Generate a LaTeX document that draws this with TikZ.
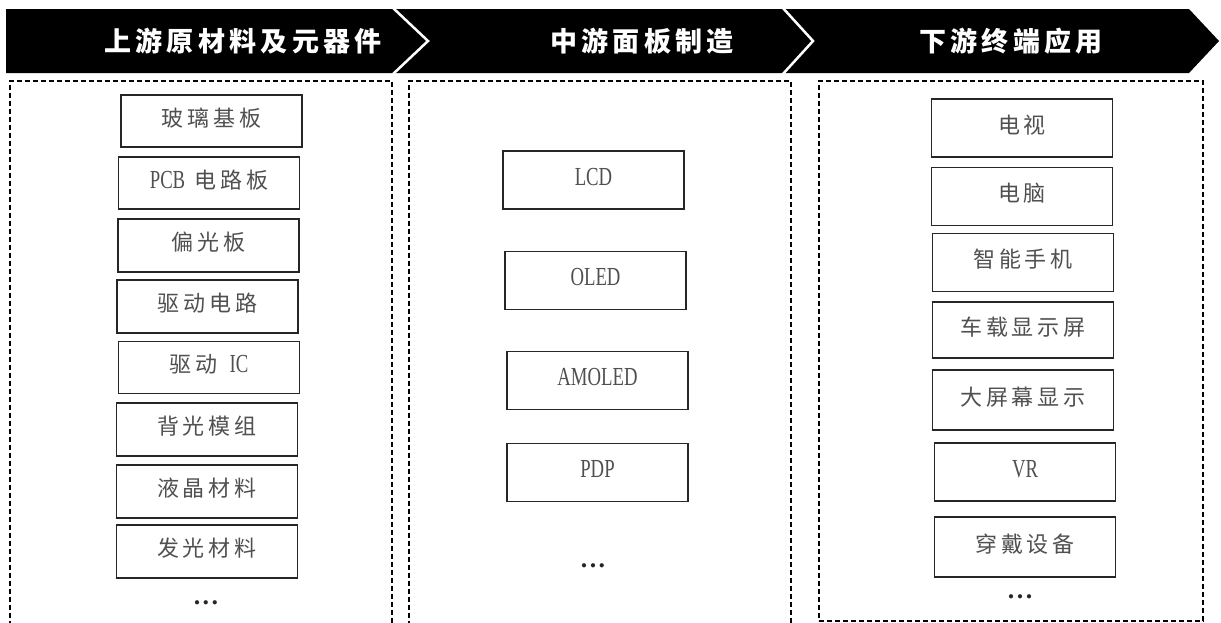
\documentclass[tikz,border=0pt]{standalone}
\usepackage{fontspec}
\setmainfont{Liberation Serif}
\newfontfamily\cjk{Noto Sans CJK SC}[LetterSpace=18]
\newfontfamily\hdrfont{Noto Sans CJK SC}[LetterSpace=16]
\newfontfamily\lat{Liberation Serif}[FakeStretch=0.72]
\definecolor{boxgray}{RGB}{80,80,80}
\tikzset{
  itembox/.style={draw=black!85, line width=1.6pt, fill=white, minimum width=181pt,
    minimum height=#1, inner sep=0pt, text=boxgray, text height=17pt, text depth=7pt,
    font=\fontsize{22pt}{26pt}\selectfont},
  itembox/.default=58pt,
  panel/.style={draw=black, line width=1.6pt, dash pattern=on 5pt off 3pt, inner sep=0pt, anchor=north west},
  hdrtext/.style={text=white, font=\hdrfont\bfseries\fontsize{27pt}{30pt}\selectfont, inner sep=0pt},
  moredots/.style={font=\bfseries\fontsize{26pt}{28pt}\selectfont, text=black!85, inner sep=0pt},
  sep/.style={draw=white, line width=2.5pt, line join=miter}
}
\begin{document}
\begin{tikzpicture}[x=1pt,y=-1pt]
\useasboundingbox (0,0) rectangle (1221,622);
% header band
\fill[black] (6,9) -- (1189,9) -- (1219,41) -- (1189,73) -- (6,73) -- cycle;
\draw[sep] (392,7) -- (428,41) -- (392,75);
\draw[sep] (782,7) -- (813,41) -- (782,75);
\node[hdrtext] (h1) at (243,41) {上游原材料及元器件};
\node[hdrtext] (h2) at (642,41) {中游面板制造};
\node[hdrtext] (h3) at (1011,41) {下游终端应用};
% panels
\node[panel, minimum width=382pt, minimum height=560pt] (pu) at (9,80) {};
\node[panel, minimum width=382pt, minimum height=560pt] (pm) at (408,80) {};
\node[panel, minimum width=384pt, minimum height=540pt] (pd) at (818,80) {};
% upstream
\node[itembox=52pt] (u1) at (211.5,121) {\cjk 玻璃基板};
\node[itembox=52pt] (u2) at (209,183) {{\lat\fontsize{26pt}{28pt}\selectfont PCB}\hspace{9pt}{\cjk 电路板}};
\node[itembox=53pt] (u3) at (208.5,245.5) {\cjk 偏光板};
\node[itembox=53pt] (u4) at (207.5,306.5) {\cjk 驱动电路};
\node[itembox=52pt] (u5) at (209,367.5) {{\cjk 驱动}\hspace{12pt}{\lat\fontsize{26pt}{28pt}\selectfont IC}};
\node[itembox=53pt] (u6) at (207,429.5) {\cjk 背光模组};
\node[itembox=53pt] (u7) at (207,491.5) {\cjk 液晶材料};
\node[itembox=53pt] (u8) at (207,551.5) {\cjk 发光材料};
\node[moredots] (ud) at (206,603) {.\hspace{2.5pt}.\hspace{2.5pt}.};
% midstream
\node[itembox] (m1) at (593.5,180) {\lat\fontsize{26pt}{28pt}\selectfont LCD};
\node[itembox] (m2) at (595.5,280.5) {\lat\fontsize{26pt}{28pt}\selectfont OLED};
\node[itembox] (m3) at (597.5,380.5) {\lat\fontsize{26pt}{28pt}\selectfont AMOLED};
\node[itembox] (m4) at (597.5,472.5) {\lat\fontsize{26pt}{28pt}\selectfont PDP};
\node[moredots] (md) at (593,566) {.\hspace{2.5pt}.\hspace{2.5pt}.};
% downstream
\node[itembox] (d1) at (1022,128) {\cjk 电视};
\node[itembox] (d2) at (1022,196.5) {\cjk 电脑};
\node[itembox] (d3) at (1023,262.5) {\cjk 智能手机};
\node[itembox=56pt] (d4) at (1023,330) {\cjk 车载显示屏};
\node[itembox=60pt] (d5) at (1023,400) {\cjk 大屏幕显示};
\node[itembox] (d6) at (1025,472) {\lat\fontsize{26pt}{28pt}\selectfont VR};
\node[itembox=60pt] (d7) at (1025,547) {\cjk 穿戴设备};
\node[moredots] (dd) at (1020,597) {.\hspace{2.5pt}.\hspace{2.5pt}.};
\end{tikzpicture}
\end{document}
